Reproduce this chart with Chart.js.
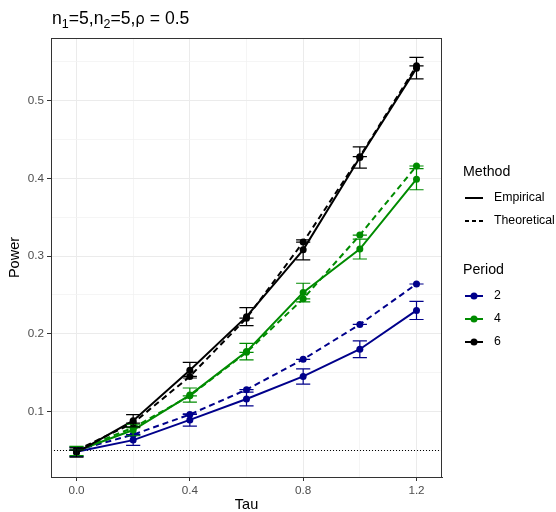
<!DOCTYPE html>
<html>
<head>
<meta charset="utf-8">
<script src="https://cdn.jsdelivr.net/npm/chart.js@4.4.1/dist/chart.umd.min.js"></script>
<style>
  html, body { margin: 0; padding: 0; background: #fff; }
  canvas { display: block; }
</style>
</head>
<body>
<canvas id="powerChart" width="556" height="512"></canvas>
<script>
const tau = [0, 0.2, 0.4, 0.6, 0.8, 1.0, 1.2];

// power by period: empirical (simulated) and theoretical
const empP2 = [0.048, 0.063, 0.089, 0.116, 0.145, 0.180, 0.230];
const theoP2 = [0.050, 0.070, 0.096, 0.128, 0.167, 0.212, 0.264];
const empP4 = [0.049, 0.076, 0.121, 0.177, 0.253, 0.309, 0.399];
const theoP4 = [0.050, 0.079, 0.120, 0.176, 0.245, 0.327, 0.416];
const empP6 = [0.047, 0.088, 0.153, 0.222, 0.308, 0.427, 0.542];
const theoP6 = [0.050, 0.085, 0.145, 0.220, 0.318, 0.428, 0.545];

// half-widths of the empirical confidence bars
const errP2 = [0.0060, 0.0068, 0.0079, 0.0089, 0.0098, 0.0107, 0.0117];
const errP4 = [0.0060, 0.0074, 0.0091, 0.0106, 0.0120, 0.0128, 0.0136];
const errP6 = [0.0059, 0.0079, 0.0100, 0.0115, 0.0128, 0.0137, 0.0138];

const alphaLevel = 0.05;

const periods = ["2", "4", "6"];
const periodColors = ["#00008B", "#008B00", "#000000"];
const methods = ["Empirical", "Theoretical"];

const xMajor = [0, 0.4, 0.8, 1.2];
const xMinor = [0.2, 0.6, 1.0];
const yMajor = [0.1, 0.2, 0.3, 0.4, 0.5];
const yMinor = [0.05, 0.15, 0.25, 0.35, 0.45, 0.55];

const FONT = "'Liberation Sans', Arial, sans-serif";

function pts(ys) {
    return ys.map((y, i) => ({ x: tau[i], y: y }));
}

function series(period, method, ys, err) {
    const color = periodColors[periods.indexOf(period)];
    return {
        label: period + " " + method,
        data: pts(ys),
        err: err,
        borderColor: color,
        backgroundColor: color,
        borderWidth: 2,
        borderDash: method === "Theoretical" ? [6, 4] : [],
        pointRadius: 3.5,
        pointBorderWidth: 0,
        pointBackgroundColor: color,
        tension: 0,
    };
}

// first dataset is drawn on top, so period 6 goes first
const datasets = [
    series("6", "Empirical", empP6, errP6),
    series("6", "Theoretical", theoP6, null),
    series("4", "Empirical", empP4, errP4),
    series("4", "Theoretical", theoP4, null),
    series("2", "Empirical", empP2, errP2),
    series("2", "Theoretical", theoP2, null),
];

function setTicks(scale, major, minor) {
    const all = major.map(v => ({ value: v, isMajor: true }))
        .concat(minor.map(v => ({ value: v, isMajor: false })));
    all.sort((a, b) => a.value - b.value);
    scale.ticks = all;
}

const gridStyle = {
    color: ctx => (ctx.tick && ctx.tick.isMajor ? "#EBEBEB" : "#F3F3F3"),
    lineWidth: ctx => (ctx.tick && ctx.tick.isMajor ? 1 : 0.8),
    tickColor: ctx => (ctx.tick && ctx.tick.isMajor ? "#333333" : "rgba(0,0,0,0)"),
    tickLength: 4,
    drawOnChartArea: true,
};

// alpha reference line, under the data
const refLine = {
    id: "refLine",
    beforeDatasetsDraw(chart) {
        const { ctx, chartArea, scales } = chart;
        const y = Math.round(scales.y.getPixelForValue(alphaLevel)) + 0.5;
        ctx.save();
        ctx.strokeStyle = "#000";
        ctx.lineWidth = 1;
        ctx.setLineDash([1, 2]);
        ctx.beginPath();
        ctx.moveTo(chartArea.left, y);
        ctx.lineTo(chartArea.right, y);
        ctx.stroke();
        ctx.restore();
    },
};

// error bars with caps
const errorBars = {
    id: "errorBars",
    afterDatasetsDraw(chart) {
        const { ctx, chartArea, scales } = chart;
        const capHalf = scales.x.getPixelForValue(0.025) - scales.x.getPixelForValue(0);
        ctx.save();
        ctx.beginPath();
        ctx.rect(chartArea.left, chartArea.top, chartArea.right - chartArea.left, chartArea.bottom - chartArea.top);
        ctx.clip();
        ctx.lineWidth = 1.2;
        for (let d = datasets.length - 1; d >= 0; d--) {
            const ds = chart.data.datasets[d];
            ctx.strokeStyle = ds.borderColor;
            ds.data.forEach((p, i) => {
                const e = ds.err ? ds.err[i] : 0;
                const x = scales.x.getPixelForValue(p.x);
                const yLo = scales.y.getPixelForValue(p.y - e);
                const yHi = scales.y.getPixelForValue(p.y + e);
                ctx.beginPath();
                ctx.moveTo(x - capHalf, yHi);
                ctx.lineTo(x + capHalf, yHi);
                ctx.moveTo(x - capHalf, yLo);
                ctx.lineTo(x + capHalf, yLo);
                ctx.moveTo(x, yHi);
                ctx.lineTo(x, yLo);
                ctx.stroke();
            });
        }
        ctx.restore();
    },
};

// panel border, title, axis titles and the two legends
const decorations = {
    id: "decorations",
    afterDraw(chart) {
        const { ctx, chartArea } = chart;
        ctx.save();
        ctx.strokeStyle = "#333333";
        ctx.lineWidth = 1;
        ctx.strokeRect(chartArea.left + 0.5, chartArea.top + 0.5,
            chartArea.right - chartArea.left - 1, chartArea.bottom - chartArea.top);

        // title with subscripts
        const parts = [
            ["n", 0], ["1", 1], ["=5,n", 0], ["2", 1], ["=5,", 0], ["\u03C1", 2], [" = 0.5", 0],
        ];
        let tx = chartArea.left + 1;
        const base = 24;
        ctx.fillStyle = "#000";
        ctx.textBaseline = "alphabetic";
        ctx.textAlign = "left";
        parts.forEach(([s, kind]) => {
            if (kind === 1) {
                ctx.font = "12.5px " + FONT;
                ctx.fillText(s, tx, base + 4);
            } else if (kind === 2) {
                ctx.font = "15px 'DejaVu Sans', sans-serif";
                ctx.fillText(s, tx, base);
            } else {
                ctx.font = "17.6px " + FONT;
                ctx.fillText(s, tx, base);
            }
            tx += ctx.measureText(s).width;
        });

        // axis titles
        ctx.font = "14.5px " + FONT;
        ctx.textAlign = "center";
        ctx.textBaseline = "middle";
        ctx.fillText("Tau", (chartArea.left + chartArea.right) / 2, 505);
        ctx.save();
        ctx.translate(15, (chartArea.top + chartArea.bottom) / 2);
        ctx.rotate(-Math.PI / 2);
        ctx.fillText("Power", 0, 0);
        ctx.restore();

        // legends
        const keyL = 465, keyR = 483, textX = 494;
        ctx.textAlign = "left";
        ctx.font = "14.2px " + FONT;
        ctx.fillText("Method", 463, 172);
        ctx.fillText("Period", 463, 270);
        ctx.font = "12.3px " + FONT;
        const methodY = [198, 221];
        methods.forEach((m, i) => {
            ctx.strokeStyle = "#000";
            ctx.lineWidth = 2;
            ctx.setLineDash(i === 1 ? [4, 3] : []);
            ctx.beginPath();
            ctx.moveTo(keyL, methodY[i]);
            ctx.lineTo(keyR, methodY[i]);
            ctx.stroke();
            ctx.setLineDash([]);
            ctx.fillStyle = "#000";
            ctx.fillText(m, textX, methodY[i]);
        });
        const periodY = [296, 319, 342];
        periods.forEach((p, i) => {
            ctx.strokeStyle = periodColors[i];
            ctx.fillStyle = periodColors[i];
            ctx.lineWidth = 2;
            ctx.beginPath();
            ctx.moveTo(keyL, periodY[i]);
            ctx.lineTo(keyR, periodY[i]);
            ctx.stroke();
            ctx.beginPath();
            ctx.arc((keyL + keyR) / 2, periodY[i], 3.5, 0, Math.PI * 2);
            ctx.fill();
            ctx.fillStyle = "#000";
            ctx.fillText(p, textX, periodY[i]);
        });
        ctx.restore();
    },
};

new Chart(document.getElementById("powerChart"), {
    type: "line",
    data: { datasets: datasets },
    plugins: [refLine, errorBars, decorations],
    options: {
        responsive: false,
        animation: false,
        layout: { padding: { top: 38, right: 114, left: 0, bottom: 0 } },
        plugins: {
            legend: { display: false },
            title: { display: false },
            tooltip: { enabled: false },
        },
        scales: {
            x: {
                type: "linear",
                min: -0.09,
                max: 1.29,
                afterBuildTicks: s => setTicks(s, xMajor, xMinor),
                afterFit: s => { s.height = 35; },
                grid: gridStyle,
                border: { color: "#333333", width: 1 },
                ticks: {
                    color: "#4D4D4D",
                    font: { family: FONT, size: 11.7 },
                    padding: 3,
                    maxRotation: 0,
                    autoSkip: false,
                    callback: (v) => (xMajor.includes(v) ? v.toFixed(1) : ""),
                },
            },
            y: {
                type: "linear",
                min: 0.0155,
                max: 0.5808,
                afterBuildTicks: s => setTicks(s, yMajor, yMinor),
                afterFit: s => { s.width = 51; },
                grid: gridStyle,
                border: { color: "#333333", width: 1 },
                ticks: {
                    color: "#4D4D4D",
                    font: { family: FONT, size: 11.7 },
                    padding: 3,
                    autoSkip: false,
                    callback: (v) => (yMajor.some(m => Math.abs(m - v) < 1e-9) ? v.toFixed(1) : ""),
                },
            },
        },
    },
});
</script>
</body>
</html>
